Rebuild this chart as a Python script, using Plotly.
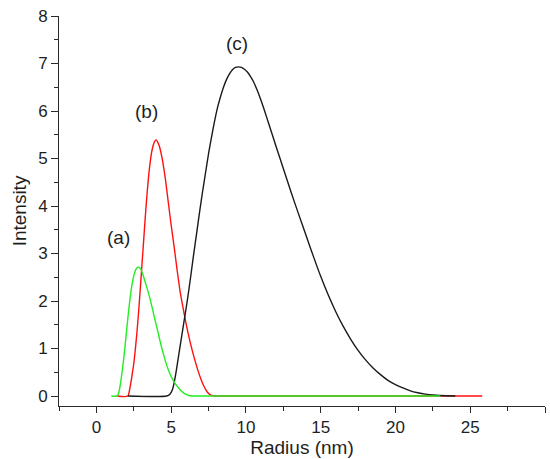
import plotly.graph_objects as go

# (a) green size distribution
radius_a = [1.0, 1.35, 1.45, 1.55, 1.65, 1.75, 1.85, 1.95, 2.05, 2.15, 2.25, 2.35,
            2.45, 2.55, 2.65, 2.75, 2.85, 2.95, 3.1, 3.3, 3.5, 3.7, 3.9, 4.1, 4.3,
            4.5, 4.7, 4.9, 5.1, 5.3, 5.5, 5.7, 5.9, 6.1, 6.3, 6.5, 23.0]
intensity_a = [0, 0, 0.03, 0.15, 0.35, 0.58, 0.85, 1.15, 1.47, 1.78, 2.05, 2.28,
               2.46, 2.59, 2.67, 2.71, 2.71, 2.68, 2.57, 2.36, 2.15, 1.9, 1.63, 1.37, 1.1,
               0.86, 0.65, 0.48, 0.35, 0.25, 0.17, 0.1, 0.05, 0.02, 0.005, 0, 0]

# (b) red size distribution
radius_b = [1.4, 2.1, 2.2, 2.3, 2.4, 2.5, 2.6, 2.7, 2.8, 2.9, 3.0, 3.1, 3.2, 3.3,
            3.4, 3.5, 3.6, 3.7, 3.8, 3.9, 4.0, 4.2, 4.4, 4.6, 4.8, 5.0, 5.2, 5.4,
            5.6, 5.8, 6.0, 6.2, 6.4, 6.6, 6.8, 7.0, 7.2, 7.4, 7.6, 7.8, 8.0, 25.8]
intensity_b = [0, 0, 0.1, 0.27, 0.47, 0.68, 0.97, 1.3, 1.68, 2.1, 2.55, 3.0, 3.45, 3.9,
               4.3, 4.65, 4.93, 5.14, 5.28, 5.36, 5.39, 5.27, 5.0, 4.6, 4.1, 3.6, 3.14, 2.65,
               2.2, 1.85, 1.52, 1.23, 0.97, 0.74, 0.53, 0.35, 0.2, 0.09, 0.03, 0.005, 0, 0]

# (c) black size distribution
radius_c = [2.1, 4.7, 4.9, 5.1, 5.3, 5.5, 5.7, 5.9, 6.1, 6.3, 6.5, 6.7, 6.9, 7.1,
            7.3, 7.5, 7.7, 7.9, 8.1, 8.3, 8.5, 8.7, 8.9, 9.1, 9.3, 9.5, 9.7, 9.9,
            10.1, 10.3, 10.5, 10.75, 11.0, 11.25, 11.5, 12.0, 12.5, 13.0, 13.5, 14.0,
            14.5, 15.0, 15.5, 16.0, 16.5, 17.0, 17.5, 18.0, 18.5, 19.0, 19.5, 20.0,
            20.5, 21.0, 21.5, 22.0, 22.5, 23.0, 24.0]
intensity_c = [0, 0, 0.03, 0.15, 0.45, 0.85, 1.25, 1.65, 2.05, 2.5, 2.97, 3.42, 3.87, 4.3,
               4.7, 5.1, 5.45, 5.78, 6.07, 6.3, 6.5, 6.66, 6.78, 6.87, 6.92, 6.93, 6.92, 6.88,
               6.82, 6.73, 6.62, 6.44, 6.23, 6.0, 5.76, 5.27, 4.79, 4.31, 3.85, 3.4,
               2.95, 2.52, 2.13, 1.78, 1.47, 1.2, 0.96, 0.76, 0.59, 0.45, 0.33, 0.24,
               0.17, 0.11, 0.07, 0.04, 0.02, 0.01, 0]

labels = ["(a)", "(b)", "(c)"]
label_x = [1.45, 3.35, 9.38]
label_y = [3.34, 5.99, 7.43]

FONT = "Arial, 'Liberation Sans', sans-serif"
AXIS_COLOR = "#2b2b2b"
TEXT_COLOR = "#1e1e1e"

fig = go.Figure()
fig.add_trace(go.Scatter(x=radius_b, y=intensity_b, mode="lines",
                         line=dict(color="#ff1010", width=1.4, shape="spline", smoothing=0.8)))
fig.add_trace(go.Scatter(x=radius_c, y=intensity_c, mode="lines",
                         line=dict(color="#1a1a1a", width=1.4, shape="spline", smoothing=0.8)))
fig.add_trace(go.Scatter(x=radius_a, y=intensity_a, mode="lines",
                         line=dict(color="#22ee22", width=1.4, shape="spline", smoothing=0.8)))

for t, x, y in zip(labels, label_x, label_y):
    fig.add_annotation(x=x, y=y, text=t, showarrow=False,
                       font=dict(family=FONT, size=19, color=TEXT_COLOR))

fig.update_layout(
    width=550, height=459,
    margin=dict(l=59, r=5, t=16, b=53, autoexpand=False),
    paper_bgcolor="white", plot_bgcolor="white",
    showlegend=False,
    font=dict(family=FONT, color=TEXT_COLOR),
)
fig.update_xaxes(
    range=[-2.5, 30], showgrid=False, zeroline=False, automargin=False,
    showline=True, linecolor=AXIS_COLOR, linewidth=1,
    ticks="outside", tickcolor=AXIS_COLOR, ticklen=6, tickwidth=1,
    tick0=0, dtick=5,
    minor=dict(ticks="outside", tick0=0, dtick=2.5, ticklen=4, tickcolor=AXIS_COLOR, showgrid=False),
    tickfont=dict(family=FONT, size=17, color=TEXT_COLOR),
    title=dict(text="Radius (nm)", font=dict(family=FONT, size=19, color=TEXT_COLOR), standoff=4),
)
fig.update_yaxes(
    range=[-0.21, 8], showgrid=False, zeroline=False, automargin=False,
    showline=True, linecolor=AXIS_COLOR, linewidth=1,
    ticks="outside", tickcolor=AXIS_COLOR, ticklen=7, tickwidth=1,
    tick0=0, dtick=1,
    minor=dict(ticks="outside", tick0=0, dtick=0.5, ticklen=4, tickcolor=AXIS_COLOR, showgrid=False),
    tickfont=dict(family=FONT, size=17, color=TEXT_COLOR),
    title=dict(text="Intensity", font=dict(family=FONT, size=19, color=TEXT_COLOR), standoff=6),
)

fig.write_html("out.html")
